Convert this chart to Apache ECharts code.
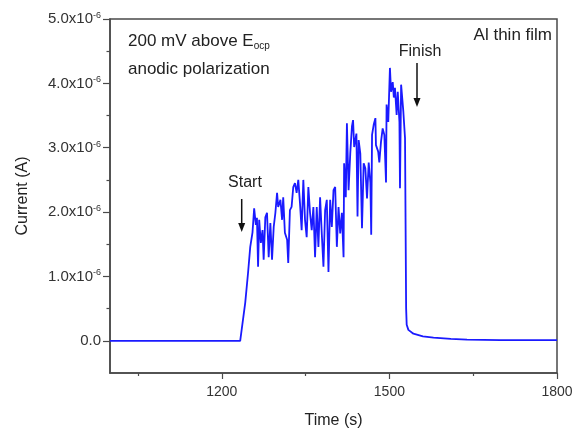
<!DOCTYPE html>
<html>
<head>
<meta charset="utf-8">
<script src="https://cdn.jsdelivr.net/npm/echarts@6/dist/echarts.min.js"></script>
<style>
  html, body { margin: 0; padding: 0; background: #fff; }
  #chart { width: 575px; height: 429px; }
</style>
</head>
<body>
<div id="chart"></div>
<script>
// time (s) and current (units of 1e-6 A)
const timeS = [
  1000, 1233, 1242, 1247, 1251, 1255, 1258, 1261, 1263, 1265,
  1267, 1270, 1273, 1275, 1278, 1281, 1284, 1287, 1290, 1293,
  1296, 1299, 1301, 1305, 1308, 1310, 1313, 1317, 1319, 1322,
  1325, 1328, 1331, 1334, 1337, 1340, 1343, 1346, 1349, 1352,
  1355, 1358, 1361, 1364, 1367, 1370, 1373, 1376, 1379, 1382,
  1385, 1388, 1391, 1394, 1397, 1400, 1403, 1406, 1409, 1412,
  1415, 1418, 1419, 1422, 1424, 1427, 1430, 1433, 1435, 1437,
  1441, 1443, 1445, 1448, 1451, 1454, 1457, 1460, 1463, 1466,
  1467.5, 1469, 1472, 1475, 1476, 1480, 1482, 1485, 1488, 1491,
  1494, 1495, 1498, 1501, 1503, 1506, 1508, 1510, 1513, 1515,
  1518, 1519, 1521, 1525, 1528, 1530, 1531, 1534, 1543, 1560,
  1579, 1610, 1639, 1699, 1800
];
const currentE6 = [
  0, 0, 0.59, 1.05, 1.46, 1.68, 2.06, 1.80, 1.91, 1.15,
  1.88, 1.52, 1.72, 1.26, 1.92, 1.99, 1.30, 1.83, 1.26, 1.77,
  1.99, 2.30, 2.08, 2.19, 1.88, 2.23, 1.68, 1.57, 1.21, 2.03,
  2.08, 2.39, 2.45, 2.30, 2.50, 2.14, 1.72, 2.50, 1.88, 1.61,
  2.39, 1.99, 1.72, 2.08, 1.30, 2.08, 1.46, 2.23, 1.67, 1.15,
  2.03, 2.19, 1.07, 2.19, 1.77, 2.34, 2.39, 1.46, 2.08, 1.67,
  1.99, 1.30, 2.76, 2.23, 3.38, 2.34, 2.91, 3.33, 3.43, 3.01,
  3.22, 1.93, 3.12, 2.91, 1.75, 2.76, 2.68, 2.21, 2.77, 2.46,
  1.65, 3.20, 3.36, 3.46, 3.04, 2.94, 2.77, 3.09, 3.30, 3.20,
  2.46, 3.67, 3.40, 4.24, 3.87, 4.02, 3.78, 3.93, 3.51, 3.87,
  3.40, 2.37, 3.98, 3.56, 3.15, 0.50, 0.25, 0.17, 0.11, 0.07,
  0.05, 0.03, 0.02, 0.01, 0.01
];
const xMajorTicks = [1200, 1500, 1800];
const xMinorTicks = [1050, 1350, 1650];
const yMajorTicks = [0, 1, 2, 3, 4, 5];
const yMinorTicks = [0.5, 1.5, 2.5, 3.5, 4.5];

const lineData = timeS.map((t, i) => [t, currentE6[i]]);

const chart = echarts.init(document.getElementById("chart"));
const axisColor = "#4a4a4a";
const font = "Liberation Sans, Arial, sans-serif";

chart.setOption({
  animation: false,
  textStyle: { fontFamily: font },
  grid: {
    left: 110, right: 18, top: 19, bottom: 56,
    outerBoundsMode: "none",
    show: true, borderColor: axisColor, borderWidth: 1.5
  },
  xAxis: [
    {
      type: "value", min: 1000, max: 1800, position: "bottom",
      name: "Time (s)", nameLocation: "middle", nameGap: 40,
      nameTextStyle: { fontSize: 16, color: "#222" },
      axisLine: { onZero: false, lineStyle: { color: axisColor, width: 1.5 } },
      axisTick: { customValues: xMajorTicks, length: 6, lineStyle: { color: axisColor, width: 1.2 } },
      axisLabel: { customValues: xMajorTicks, margin: 12, fontSize: 14, color: "#333", formatter: v => String(v) },
      splitLine: { show: false }
    },
    {
      type: "value", min: 1000, max: 1800, position: "bottom",
      axisLine: { show: false, onZero: false },
      axisTick: { customValues: xMinorTicks, length: 3, lineStyle: { color: axisColor, width: 1.2 } },
      axisLabel: { show: false },
      splitLine: { show: false }
    }
  ],
  yAxis: [
    {
      type: "value", min: -0.5, max: 5, interval: 0.5, position: "left",
      name: "Current (A)", nameLocation: "middle", nameGap: 79,
      nameTextStyle: { fontSize: 16, color: "#222" },
      axisLine: { show: true, onZero: false, lineStyle: { color: axisColor, width: 1.5 } },
      axisTick: { customValues: yMajorTicks, length: 7, lineStyle: { color: axisColor, width: 1.2 } },
      axisLabel: {
        customValues: yMajorTicks, margin: 9, color: "#333",
        formatter: v => v === 0 ? "{m|0.0}" : "{m|" + v.toFixed(1) + "x10}{e|-6}",
        rich: {
          m: { fontSize: 15, color: "#333", lineHeight: 16 },
          e: { fontSize: 9, color: "#333", lineHeight: 9, verticalAlign: "top" }
        }
      },
      splitLine: { show: false }
    },
    {
      type: "value", min: -0.5, max: 5, position: "left",
      axisLine: { show: false, onZero: false },
      axisTick: { customValues: yMinorTicks, length: 3.5, lineStyle: { color: axisColor, width: 1.2 } },
      axisLabel: { show: false },
      splitLine: { show: false }
    }
  ],
  series: [{
    type: "line",
    data: lineData,
    showSymbol: false,
    lineStyle: { color: "#1a1aff", width: 1.8 },
    xAxisIndex: 0, yAxisIndex: 0
  }],
  graphic: [
    {
      type: "text", left: 128, top: 33,
      style: {
        text: "{a|200 mV above E}{s|ocp}",
        rich: {
          a: { fontSize: 17, fill: "#222", fontFamily: font, lineHeight: 20 },
          s: { fontSize: 10, fill: "#222", fontFamily: font, lineHeight: 12, verticalAlign: "bottom" }
        }
      }
    },
    { type: "text", left: 128, top: 61, style: { text: "anodic polarization", fontSize: 17, fill: "#222", fontFamily: font } },
    { type: "text", right: 23, top: 27, style: { text: "Al thin film", fontSize: 17, fill: "#222", fontFamily: font } },
    { type: "text", x: 420, y: 52, style: { text: "Finish", fontSize: 16, fill: "#222", fontFamily: font, align: "center", verticalAlign: "middle" } },
    { type: "line", shape: { x1: 417, y1: 63, x2: 417, y2: 100 }, style: { stroke: "#111", lineWidth: 1.5 } },
    { type: "polygon", shape: { points: [[413.5, 98], [420.5, 98], [417, 107]] }, style: { fill: "#111" } },
    { type: "text", x: 245, y: 183, style: { text: "Start", fontSize: 16, fill: "#222", fontFamily: font, align: "center", verticalAlign: "middle" } },
    { type: "line", shape: { x1: 241.7, y1: 199, x2: 241.7, y2: 225 }, style: { stroke: "#111", lineWidth: 1.5 } },
    { type: "polygon", shape: { points: [[238.2, 223], [245.2, 223], [241.7, 232]] }, style: { fill: "#111" } }
  ]
});
</script>
</body>
</html>
